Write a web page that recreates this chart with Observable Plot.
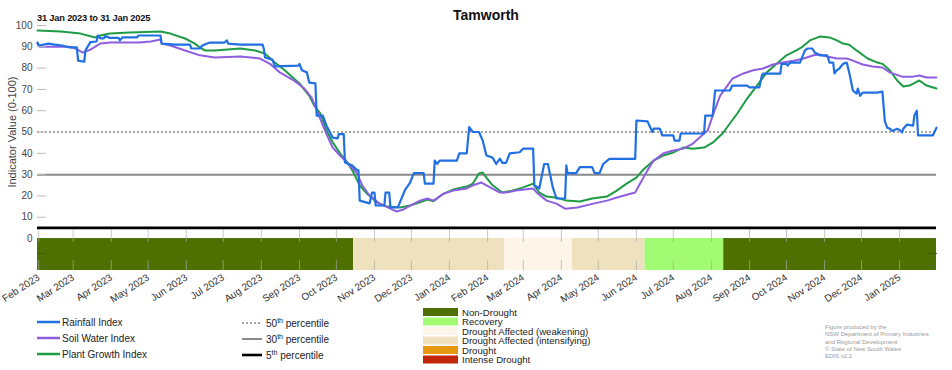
<!DOCTYPE html>
<html><head><meta charset="utf-8">
<script src="https://cdn.jsdelivr.net/npm/d3@7"></script>
<script src="https://cdn.jsdelivr.net/npm/@observablehq/plot@0.6"></script>
<style>
body{margin:0;background:#fff;font-family:"Liberation Sans",Arial,sans-serif;}
#wrap{position:relative;width:952px;height:370px;overflow:hidden;background:#fff;}
#chart{position:absolute;left:0;top:0;}
#overlay{position:absolute;left:0;top:0;pointer-events:none;}
</style></head>
<body><div id="wrap"><div id="chart"></div>
<svg id="overlay" width="952" height="370" font-family="Liberation Sans, Arial, sans-serif"></svg>
</div>
<script>
const titleText = "Tamworth";
const subtitleText = "31 Jan 2023 to 31 Jan 2025";
const yLabel = "Indicator Value (0-100)";
const domainStart = "2023-01-31", domainEnd = "2025-01-31";
const yTicks = [0,10,20,30,40,50,60,70,80,90,100];

const rainfall = [["2023-01-31",92],["2023-02-01",90.6],["2023-02-09",91.5],["2023-02-14",91],["2023-02-20",90.6],["2023-02-26",89.7],["2023-03-04",89.7],["2023-03-05",83.5],["2023-03-10",83],["2023-03-11",88.3],["2023-03-15",92.2],["2023-03-20",92.5],["2023-03-21",95.3],["2023-03-23",94],["2023-03-26",94],["2023-03-27",95],["2023-03-31",94.2],["2023-04-07",94.2],["2023-04-08",93],["2023-04-10",94.4],["2023-04-22",94.4],["2023-04-23",95.3],["2023-05-11",95.3],["2023-05-12",91.5],["2023-05-23",91],["2023-06-04",91],["2023-06-05",89.2],["2023-06-12",89.2],["2023-06-14",90.6],["2023-06-20",92],["2023-07-02",92],["2023-07-04",93],["2023-07-05",91.5],["2023-07-15",91],["2023-08-02",91],["2023-08-03",89.2],["2023-08-04",85],["2023-08-10",84],["2023-08-12",80.8],["2023-08-31",81.2],["2023-09-01",82],["2023-09-03",79],["2023-09-07",78],["2023-09-09",73.2],["2023-09-14",72.8],["2023-09-15",57.7],["2023-09-20",57.7],["2023-09-23",53],["2023-09-28",47.4],["2023-10-02",47],["2023-10-03",49],["2023-10-07",49],["2023-10-08",35.7],["2023-10-14",34.3],["2023-10-18",32],["2023-10-19",32],["2023-10-20",17.8],["2023-10-28",16.5],["2023-10-30",21.6],["2023-11-01",21.6],["2023-11-02",15.5],["2023-11-09",15.5],["2023-11-10",21.6],["2023-11-13",21.6],["2023-11-14",14.6],["2023-11-20",14.6],["2023-11-26",23],["2023-11-30",26.3],["2023-12-03",30.7],["2023-12-11",30.7],["2023-12-12",25.8],["2023-12-19",25.8],["2023-12-20",36.6],["2023-12-22",35],["2023-12-24",36.6],["2024-01-07",36.6],["2024-01-09",40],["2024-01-15",40],["2024-01-17",52.3],["2024-01-20",50],["2024-01-25",50],["2024-01-28",46],["2024-01-31",39],["2024-02-05",38],["2024-02-08",35],["2024-02-11",37.5],["2024-02-13",35.5],["2024-02-16",35.5],["2024-02-19",40],["2024-02-27",40.5],["2024-03-01",42.2],["2024-03-09",42.2],["2024-03-10",25],["2024-03-14",23.5],["2024-03-18",35],["2024-03-21",35],["2024-03-23",29.6],["2024-03-25",24],["2024-03-28",18.8],["2024-04-04",18.8],["2024-04-05",34.3],["2024-04-06",30.7],["2024-04-13",30.7],["2024-04-16",33.5],["2024-04-26",33.5],["2024-04-28",30.7],["2024-05-02",30.7],["2024-05-05",35],["2024-05-10",37.4],["2024-05-31",37.4],["2024-06-01",55.4],["2024-06-10",55],["2024-06-14",50],["2024-06-15",51.6],["2024-06-20",51.6],["2024-06-22",48.4],["2024-07-01",48.4],["2024-07-02",46],["2024-07-06",46],["2024-07-07",49.3],["2024-07-26",49.3],["2024-07-27",57.7],["2024-08-02",57.7],["2024-08-04",69.5],["2024-08-16",69.5],["2024-08-18",71.8],["2024-08-30",71.8],["2024-09-01",71],["2024-09-09",71],["2024-09-11",76.5],["2024-09-12",77.4],["2024-09-26",77.4],["2024-09-27",82],["2024-10-01",82],["2024-10-02",81.2],["2024-10-04",82.6],["2024-10-12",82.6],["2024-10-16",88.3],["2024-10-18",89.2],["2024-10-22",89.2],["2024-10-24",87.3],["2024-10-28",86],["2024-11-03",86],["2024-11-04",84.5],["2024-11-05",82.6],["2024-11-08",82.6],["2024-11-09",77.5],["2024-11-11",79],["2024-11-13",79.8],["2024-11-16",82],["2024-11-19",82.6],["2024-11-21",78],["2024-11-24",69.5],["2024-11-27",68],["2024-11-28",70.4],["2024-11-30",67],["2024-12-02",68.5],["2024-12-14",68.5],["2024-12-18",69],["2024-12-20",55],["2024-12-22",52],["2024-12-24",51.6],["2024-12-26",50.5],["2024-12-30",51.5],["2025-01-01",51],["2025-01-03",49.8],["2025-01-04",51.5],["2025-01-07",53.5],["2025-01-12",53],["2025-01-13",57.7],["2025-01-15",60],["2025-01-16",48.4],["2025-01-28",48.4],["2025-01-31",52]];

const soilWater = [["2023-01-31",91.5],["2023-02-02",90],["2023-02-26",90],["2023-03-03",89.2],["2023-03-09",87.3],["2023-03-15",88.7],["2023-03-23",91.5],["2023-03-31",92],["2023-04-24",92],["2023-05-03",92.5],["2023-05-11",93.4],["2023-05-12",91.5],["2023-05-19",90.6],["2023-05-31",88.3],["2023-06-12",86],["2023-06-24",85],["2023-07-15",85.5],["2023-07-31",84.5],["2023-08-08",82],["2023-08-16",78],["2023-08-28",74],["2023-09-05",70.4],["2023-09-11",66],["2023-09-18",56],["2023-09-23",49],["2023-09-28",42.7],["2023-10-04",39],["2023-10-12",34.3],["2023-10-18",30.5],["2023-10-22",25],["2023-10-28",20.2],["2023-11-05",16.4],["2023-11-14",14],["2023-11-19",12.7],["2023-11-24",13.5],["2023-11-30",15.5],["2023-12-08",17.8],["2023-12-14",18.8],["2023-12-19",17.8],["2023-12-27",21],["2024-01-04",22.5],["2024-01-15",23.5],["2024-01-20",25],["2024-01-27",26.3],["2024-02-03",24],["2024-02-11",21.6],["2024-02-16",21.6],["2024-02-24",22.5],["2024-03-09",23.5],["2024-03-13",21],["2024-03-20",17.8],["2024-03-28",16.4],["2024-04-04",14],["2024-04-14",14.6],["2024-04-27",16.4],["2024-05-08",17.8],["2024-05-19",19.7],["2024-05-31",21.6],["2024-06-04",25.8],["2024-06-10",32],["2024-06-15",36.6],["2024-06-23",40],["2024-07-01",41.3],["2024-07-09",42.2],["2024-07-17",44.6],["2024-07-26",49.3],["2024-07-29",50.7],["2024-08-02",57.7],["2024-08-08",67],["2024-08-14",71.8],["2024-08-18",75],["2024-08-27",77.5],["2024-09-04",79],["2024-09-12",79.8],["2024-09-20",81.7],["2024-09-28",82.6],["2024-10-07",83.5],["2024-10-15",84.5],["2024-10-23",86],["2024-10-28",86.4],["2024-11-03",85.4],["2024-11-11",84.5],["2024-11-19",84.5],["2024-11-24",83.5],["2024-12-02",81.7],["2024-12-10",80.8],["2024-12-18",80.3],["2024-12-24",78],["2025-01-03",76],["2025-01-12",76],["2025-01-17",76.5],["2025-01-23",75.6],["2025-01-31",75.6]];

const plantGrowth = [["2023-01-31",97.7],["2023-02-19",97.2],["2023-03-07",96.2],["2023-03-19",94.4],["2023-03-23",95.3],["2023-03-31",96.2],["2023-04-16",96.7],["2023-05-11",97.2],["2023-05-19",96.2],["2023-05-31",93.9],["2023-06-08",91.5],["2023-06-12",89.7],["2023-06-16",88.3],["2023-06-24",88.3],["2023-07-15",89.2],["2023-07-27",88.3],["2023-08-04",86.8],["2023-08-12",82.6],["2023-08-20",79],["2023-09-01",72.8],["2023-09-09",67],["2023-09-13",62.4],["2023-09-18",58.7],["2023-09-23",50.7],["2023-09-28",45.2],["2023-10-04",40],["2023-10-10",35.7],["2023-10-14",32],["2023-10-20",25],["2023-10-26",21],["2023-11-03",17],["2023-11-11",15],["2023-11-22",14.6],["2023-11-30",15.5],["2023-12-08",17],["2023-12-14",18.3],["2023-12-19",17.5],["2023-12-27",21],["2024-01-04",23],["2024-01-15",24.4],["2024-01-20",25.8],["2024-01-25",30.5],["2024-01-28",31],["2024-01-31",28.6],["2024-02-05",25],["2024-02-13",21.6],["2024-02-21",22.5],["2024-03-01",24],["2024-03-09",25.8],["2024-03-14",21.6],["2024-03-20",19.7],["2024-03-28",19.2],["2024-04-05",17.8],["2024-04-16",17.4],["2024-04-26",18.8],["2024-05-08",19.7],["2024-05-16",22.5],["2024-05-24",25.8],["2024-06-01",28.6],["2024-06-06",32],["2024-06-15",36.6],["2024-06-23",39],["2024-07-01",40.4],["2024-07-09",42.7],["2024-07-17",42.2],["2024-07-26",42.7],["2024-08-02",45],["2024-08-10",49.3],["2024-08-16",54],["2024-08-22",58.7],["2024-08-30",65.7],["2024-09-07",71.8],["2024-09-15",78],["2024-09-23",82],["2024-10-01",86],["2024-10-09",88.3],["2024-10-14",90],["2024-10-20",93],["2024-10-28",94.8],["2024-11-05",94.4],["2024-11-11",93],["2024-11-16",91.5],["2024-11-21",91],["2024-11-27",88.3],["2024-12-06",84.5],["2024-12-14",82.6],["2024-12-18",82],["2024-12-24",79],["2024-12-30",74.2],["2025-01-04",71.4],["2025-01-09",71.8],["2025-01-17",74.2],["2025-01-23",71.8],["2025-01-31",70.4]];

const statusNames = ["Non-Drought","Recovery","Drought Affected (weakening)","Drought Affected (intensifying)","Drought","Intense Drought"];
const statusColors = ["#4d7000","#a2fb72","#fdf5e8","#efe1bd","#e6980f","#c1260a"];
const statusPeriods = [["2023-01-31","2023-10-15","Non-Drought"],["2023-10-15","2024-02-15","Drought Affected (intensifying)"],["2024-02-15","2024-04-10","Drought Affected (weakening)"],["2024-04-10","2024-06-08","Drought Affected (intensifying)"],["2024-06-08","2024-08-11","Recovery"],["2024-08-11","2025-01-31","Non-Drought"]];

const seriesNames = ["Rainfall Index","Soil Water Index","Plant Growth Index"];
const seriesColors = ["#2170e3","#8d5fe0","#1d9c45"];
const percentiles = [50,30,5];
const percentileLabels = ["50","30","5"];
const percentileStyles = [{stroke:"#888",width:1.6,dash:"2,2"},{stroke:"#8a8a8a",width:2,dash:null},{stroke:"#000",width:2.6,dash:null}];
const creditLines = ["Figure produced by the","NSW Department of Primary Industries","and Regional Development","\u00A9 State of New South Wales","EDIS v2.2"];

const parse = d3.utcParse("%Y-%m-%d");
const toRows = (arr, name) => arr.map(([d,v]) => ({date: parse(d), value: v, series: name}));
const rainRows = toRows(rainfall, seriesNames[0]);
const soilRows = toRows(soilWater, seriesNames[1]);
const plantRows = toRows(plantGrowth, seriesNames[2]);
const statusRows = statusPeriods.map(([a,b,s]) => ({start: parse(a), end: parse(b), status: s}));
const statusColor = Object.fromEntries(statusNames.map((n,i)=>[n,statusColors[i]]));
const monthTicks = d3.utcMonth.range(parse("2023-02-01"), parse("2025-02-01"));
const bandTop = 0, bandBottom = -15, gridTop = 5;

const plot = Plot.plot({
  width: 952, height: 305,
  marginLeft: 37, marginRight: 16, marginTop: 25, marginBottom: 35,
  style: {fontFamily: "Liberation Sans, Arial, sans-serif", background: "transparent"},
  x: {type: "utc", domain: [parse(domainStart), parse(domainEnd)]},
  y: {domain: [bandBottom, 100]},
  marks: [
    Plot.ruleX(monthTicks, {y1: gridTop, y2: bandBottom, stroke: "#c8c8c8", strokeWidth: 1}),
    Plot.rectX(statusRows, {x1: "start", x2: "end", y1: bandTop, y2: bandBottom, fill: d => statusColor[d.status]}),
    Plot.ruleX(monthTicks, {y1: bandTop, y2: -1.8, stroke: "#aaa", strokeOpacity: 0.7}),
    Plot.ruleX(monthTicks, {y1: -10.5, y2: bandBottom, stroke: "#aaa", strokeOpacity: 0.7}),
    Plot.ruleY([percentiles[0]], {stroke: percentileStyles[0].stroke, strokeWidth: percentileStyles[0].width, strokeDasharray: percentileStyles[0].dash}),
    Plot.ruleY([percentiles[1]], {stroke: percentileStyles[1].stroke, strokeWidth: percentileStyles[1].width}),
    Plot.ruleY([percentiles[2]], {stroke: percentileStyles[2].stroke, strokeWidth: percentileStyles[2].width}),
    Plot.line(plantRows, {x: "date", y: "value", stroke: seriesColors[2], strokeWidth: 2}),
    Plot.line(soilRows, {x: "date", y: "value", stroke: seriesColors[1], strokeWidth: 2}),
    Plot.line(rainRows, {x: "date", y: "value", stroke: seriesColors[0], strokeWidth: 2.2}),
    Plot.axisY({ticks: yTicks, tickSize: 0, tickPadding: 5, fontSize: 10, fill: "#444", label: null}),
    Plot.axisY({ticks: yTicks.filter(t => t > 0), tickSize: 9, dx: 9, tickFormat: () => "", stroke: "#bbb", label: null}),
    Plot.axisY({ticks: [-7], tickSize: 9, dx: 9, tickFormat: () => "", stroke: "#3e5a00", label: null}),
    Plot.axisY({anchor: "right", ticks: [-7], tickSize: 9, dx: -9, tickFormat: () => "", stroke: "#3e5a00", label: null}),
    Plot.axisX({ticks: monthTicks, tickFormat: d3.utcFormat("%b %Y"), tickRotate: -33, tickSize: 0, tickPadding: 6, fontSize: 10, fill: "#333", label: null}),
    Plot.text([yLabel], {frameAnchor: "left", y: () => 50, dx: -25, rotate: -90, textAnchor: "middle", fontSize: 11, fill: "#444", text: d => d})
  ]
});
document.getElementById("chart").appendChild(plot);

// overlay: title, subtitle, legends, credit
const ov = d3.select("#overlay");
ov.append("text").attr("x", 486).attr("y", 20).attr("text-anchor", "middle").attr("font-size", 14).attr("font-weight", "bold").attr("fill", "#111").text(titleText);
ov.append("text").attr("x", 37).attr("y", 21).attr("font-size", 9.3).attr("font-weight", "bold").attr("fill", "#111").attr("letter-spacing", -0.2).text(subtitleText);

seriesNames.forEach((n,i) => {
  const y = 322 + i*16;
  ov.append("line").attr("x1", 37).attr("x2", 60).attr("y1", y).attr("y2", y).attr("stroke", seriesColors[i]).attr("stroke-width", 2.5);
  ov.append("text").attr("x", 62).attr("y", y+3.5).attr("font-size", 10).attr("fill", "#222").text(n);
});
percentiles.forEach((p,i) => {
  const y = 323 + i*16;
  const st = percentileStyles[i];
  ov.append("line").attr("x1", 242).attr("x2", 262).attr("y1", y).attr("y2", y).attr("stroke", st.stroke).attr("stroke-width", st.width).attr("stroke-dasharray", st.dash);
  const t = ov.append("text").attr("x", 266).attr("y", y+3.5).attr("font-size", 10).attr("fill", "#222");
  t.append("tspan").text(percentileLabels[i]);
  t.append("tspan").attr("dy", -4).attr("font-size", 7).text("th");
  t.append("tspan").attr("dy", 4).text(" percentile");
});
statusNames.forEach((n,i) => {
  const cy = 312 + i*9.5;
  ov.append("rect").attr("x", 423).attr("y", cy-4).attr("width", 35).attr("height", 8).attr("fill", statusColors[i]);
  ov.append("text").attr("x", 462).attr("y", cy+3.5).attr("font-size", 9.6).attr("fill", "#222").text(n);
});
creditLines.forEach((c,i) => {
  ov.append("text").attr("x", 825).attr("y", 329 + i*7.3).attr("font-size", 6).attr("fill", "#999").text(c);
});
</script>
</body></html>
